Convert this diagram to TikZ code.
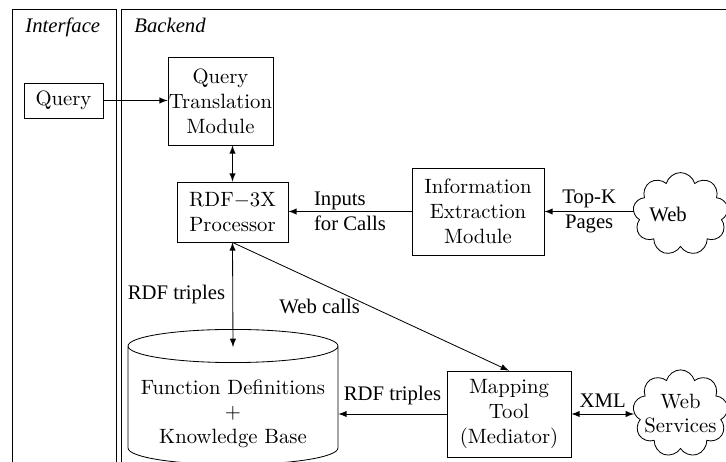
\documentclass[tikz,border=0pt]{standalone}
\usepackage{fontspec}
\newfontfamily\tms{Liberation Serif}
\usetikzlibrary{shapes.geometric,shapes.symbols}
\begin{document}
\begin{tikzpicture}[x=0.483pt,y=-0.483pt,
  lane/.style={draw, line width=0.4pt},
  lanetitle/.style={font=\tms\itshape, anchor=base west, inner sep=0pt},
  box/.style={draw, align=center, inner sep=0pt},
  lbl/.style={font=\tms, align=center, inner sep=2pt},
  arr/.style={-latex},
  darr/.style={latex-latex},
  cloudnode/.style={cloud, draw, cloud puffs=9, inner sep=0pt},
]
\useasboundingbox (0,0) rectangle (726,462);
\clip (0,0) rectangle (726,462);

% swimlanes
\draw[lane] (12,480) -- (12,9) -- (116,9) -- (116,480);
\draw[lane] (121,480) -- (121,9) -- (760,9);
\node[lanetitle] (ifacetitle) at (25,33) {Interface};
\node[lanetitle] (backtitle) at (134,33) {Backend};

% components
\node[box, minimum width=38.2pt, minimum height=16.9pt] (query) at (63.5,100.5) {Query};
\node[box, minimum width=50.7pt, minimum height=42.5pt] (qtm) at (220.5,101) {Query\\Translation\\Module};
\node[box, minimum width=53.6pt, minimum height=29pt] (rdf) at (232.5,212) {RDF$-$3X\\Processor};
\node[box, minimum width=63.8pt, minimum height=42pt] (iem) at (478,211.5) {Information\\Extraction\\Module};
\node[box, minimum width=59.9pt, minimum height=41.5pt] (map) at (509,414) {Mapping\\Tool\\(Mediator)};
\node[draw, cylinder, shape border rotate=90, shape aspect=0.18,
      minimum width=101.4pt, minimum height=54.1pt, align=center, inner sep=0pt,
      anchor=shape center]
      (db) at (233,397) {\rule{0pt}{15pt}Function Definitions\\+\\Knowledge Base};
\node[cloudnode, font=\tms, inner xsep=-6pt, minimum width=46pt, minimum height=40pt]
      (web) at (680.5,214) {Web\hspace*{12pt}};
\node[cloudnode, align=center, inner xsep=-5pt, inner ysep=-5pt,
      minimum width=46pt, minimum height=37.2pt] (ws) at (680.5,413.5) {Web\\Services};

% connectors
\draw[arr] (query.east) -- (query.east -| qtm.west);
\draw[darr] (rdf.north) -- (rdf.north |- qtm.south);
\draw[arr] (iem.west) -- node[lbl, align=left] {Inputs\\for Calls} (iem.west -| rdf.east);
\draw[arr] (web.west |- iem.east) -- node[lbl] {Top-K\\Pages} (iem.east);
\draw[darr] (rdf.south) -- node[lbl, left=1.5pt] {RDF triples} ([yshift=-8.7pt]db.top);
\draw[arr] (rdf.south) -- node[lbl, left=3pt] {Web calls} (map.north);
\draw[arr] (map.west) -- node[lbl, above=2pt] {RDF triples} (map.west -| db.east);
\draw[darr] (map.east) -- node[lbl, above=1pt] {XML} (map.east -| ws.west);
\end{tikzpicture}
\end{document}
